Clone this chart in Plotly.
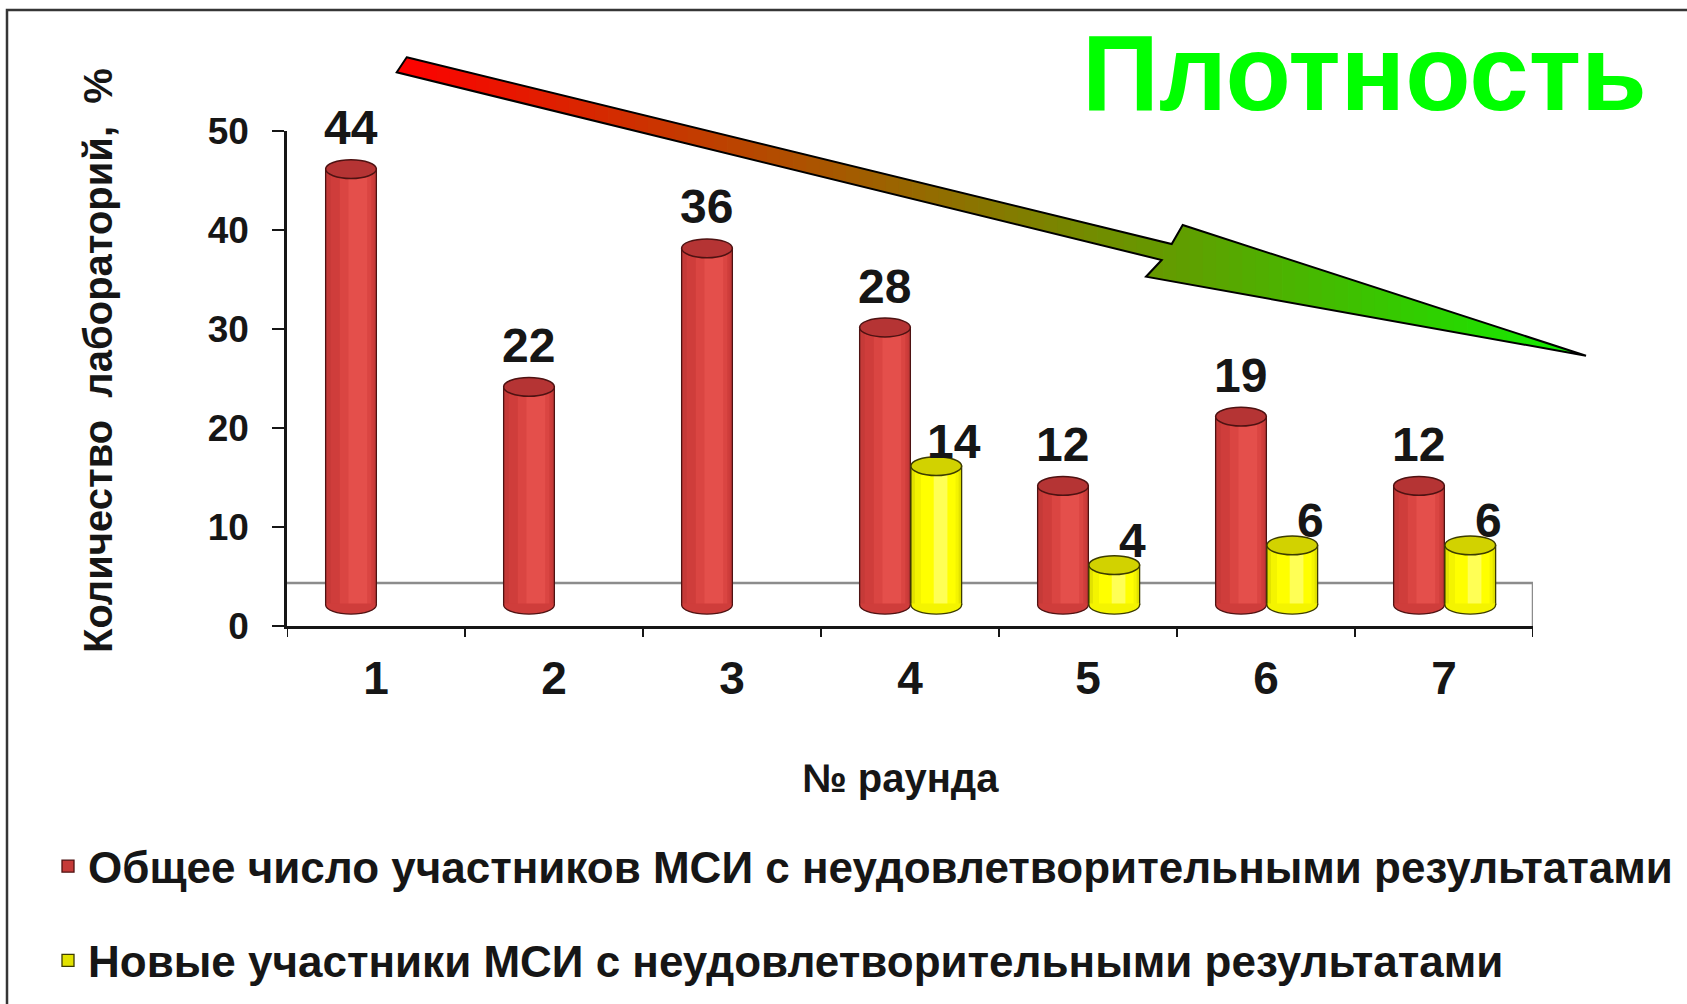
import plotly.graph_objects as go

# ---- data -------------------------------------------------------------
rounds = ["1", "2", "3", "4", "5", "6", "7"]
total_bad = [44, 22, 36, 28, 12, 19, 12]
new_bad = [None, None, None, 14, 4, 6, 6]
y_ticks = [0, 10, 20, 30, 40, 50]

name_total = "Общее число участников МСИ с неудовлетворительными результатами"
name_new = "Новые участники МСИ с неудовлетворительными результатами"
chart_title = "Плотность"
x_title = "№ раунда"
y_title = "Количество\u00a0 лабораторий,\u00a0 %"

# ---- page geometry ----------------------------------------------------
W, H = 1687, 1004
ML, MR, MT, MB = 287, 154, 131, 378
PW, PH = W - ML - MR, H - MT - MB
FONT = "Liberation Sans, Arial, sans-serif"
INK = "#161616"

DEPTH = 2.15      # 3-D depth shift of the cylinders, in value units
BAR_W = 0.285     # cylinder width, in slot units
CAP = 0.95        # half-height of the elliptical cylinder ends, in value units
FLOOR = 4.35      # back edge of the floor

pos = list(range(1, len(rounds) + 1))          # numeric slot of each round
bounds = [p - 0.5 for p in pos] + [pos[-1] + 0.5]


def px(x):
    return (x - ML) / PW


def py(y):
    return (H - MB - y) / PH


series = [
    dict(name=name_total, values=total_bad, offset=-0.283,
         layers=[(0.00, 1.00, "#c53a38"), (0.10, 0.95, "#cf3d3b"),
                 (0.28, 0.90, "#da4542"), (0.45, 0.82, "#e44f4b")],
         edge="#4e1212", top="#b53434", label_shift=(0, 13)),
    dict(name=name_new, values=new_bad, offset=0.005,
         layers=[(0.00, 1.00, "#e2e200"), (0.08, 0.94, "#f4f400"),
                 (0.20, 0.88, "#ffff00"), (0.45, 0.72, "#ffff55")],
         edge="#3c3c00", top="#d2d200", label_shift=(18, -4)),
]

fig = go.Figure()
shapes = []
annotations = []

# floor outline behind the cylinders
shapes.append(dict(type="line", xref="x", yref="y", x0=bounds[0], x1=bounds[-1],
                   y0=FLOOR, y1=FLOOR, line=dict(color="#8c8c8c", width=2.5),
                   layer="below"))
shapes.append(dict(type="line", xref="x", yref="y", x0=bounds[-1], x1=bounds[-1],
                   y0=0, y1=FLOOR, line=dict(color="#8c8c8c", width=2.5),
                   layer="below"))

# tick marks on the boundaries between rounds
for bx in bounds:
    shapes.append(dict(type="line", xref="x", yref="paper", x0=bx, x1=bx,
                       y0=0, y1=-11 / PH, line=dict(color=INK, width=2),
                       layer="above"))

for s in series:
    vals = s["values"]
    for k, (f0, f1, col) in enumerate(s["layers"]):
        first = k == 0
        fig.add_trace(go.Bar(
            x=pos, y=vals, yaxis="y2",
            width=[BAR_W * (f1 - f0)] * len(pos),
            offset=[s["offset"] + BAR_W * f0] * len(pos),
            marker=dict(color=col,
                        line=dict(color=s["edge"], width=1.3 if first else 0)),
            name=s["name"], showlegend=first, legendgroup=s["name"],
            hoverinfo=None if first else "skip",
        ))
    for p, v in zip(pos, vals):
        if v is None:
            continue
        x0 = p + s["offset"]
        x1 = x0 + BAR_W
        xc = (x0 + x1) / 2
        a = BAR_W / 2
        kap = 0.5523
        d = 0.12
        # rounded bottom of the cylinder
        path = (f"M {x0},{d} L {x0},0 "
                f"C {x0},{-kap * CAP} {xc - kap * a},{-CAP} {xc},{-CAP} "
                f"C {xc + kap * a},{-CAP} {x1},{-kap * CAP} {x1},0 L {x1},{d}")
        shapes.append(dict(type="path", xref="x", yref="y2", path=path,
                           fillcolor=s["layers"][1][2],
                           line=dict(color=s["edge"], width=1.3), layer="above"))
        # elliptical top of the cylinder
        shapes.append(dict(type="circle", xref="x", yref="y2",
                           x0=x0, x1=x1, y0=v - CAP, y1=v + CAP,
                           fillcolor=s["top"], line=dict(color=s["edge"], width=1.5),
                           layer="above"))
        dx, dy = s["label_shift"]
        annotations.append(dict(x=xc, y=v, xref="x", yref="y2", text=str(v),
                                showarrow=False, yanchor="bottom", xanchor="center",
                                xshift=dx, yshift=dy,
                                font=dict(family=FONT, size=48, color=INK,
                                          weight="bold")))

# gradient arrow (red -> green) drawn as vertical slices of one polygon
arrow = [(406.7, 57.3), (1171.7, 244.0), (1182.7, 225.0), (1586.0, 355.7),
         (1146.0, 276.7), (1161.7, 260.0), (396.7, 72.3)]


def clip(poly, xv, keep_right):
    out = []
    n = len(poly)
    for j in range(n):
        p, q = poly[j], poly[(j + 1) % n]
        pin = p[0] >= xv if keep_right else p[0] <= xv
        qin = q[0] >= xv if keep_right else q[0] <= xv
        if pin:
            out.append(p)
        if pin != qin:
            t = (xv - p[0]) / (q[0] - p[0])
            out.append((xv, p[1] + t * (q[1] - p[1])))
    return out


ax0 = min(p[0] for p in arrow)
ax1 = max(p[0] for p in arrow)
N = 90
for j in range(N):
    a = ax0 + (ax1 - ax0) * j / N
    b = ax0 + (ax1 - ax0) * (j + 1) / N + 0.8
    piece = clip(clip(arrow, a, True), b, False)
    if len(piece) < 3:
        continue
    t = (j + 0.5) / N
    col = f"rgb({int(255 * (1 - t) + 16 * t)},{int(240 * t)},0)"
    d = "M " + " L ".join(f"{px(x):.5f},{py(y):.5f}" for x, y in piece) + " Z"
    shapes.append(dict(type="path", xref="paper", yref="paper", path=d,
                       fillcolor=col, line=dict(width=0), layer="above"))
outline = "M " + " L ".join(f"{px(x):.5f},{py(y):.5f}" for x, y in arrow) + " Z"
shapes.append(dict(type="path", xref="paper", yref="paper", path=outline,
                   fillcolor="rgba(0,0,0,0)", line=dict(color="#000000", width=2),
                   layer="above"))

# outer frame
shapes.append(dict(type="rect", xref="paper", yref="paper",
                   x0=px(7), x1=px(1720), y0=py(10), y1=py(1040),
                   line=dict(color="#363636", width=2.5), fillcolor="rgba(0,0,0,0)",
                   layer="above"))

# titles
annotations.append(dict(text=chart_title, xref="paper", yref="paper",
                        x=px(1080), y=py(11), xanchor="left", yanchor="top",
                        showarrow=False,
                        font=dict(family=FONT, size=107, color="#00ff00", weight="bold")))
annotations.append(dict(text=x_title, xref="paper", yref="paper",
                        x=px(900), y=py(778), xanchor="center", yanchor="middle",
                        showarrow=False,
                        font=dict(family=FONT, size=40, color=INK, weight="bold")))
annotations.append(dict(text=y_title, xref="paper", yref="paper",
                        x=px(98), y=py(361), xanchor="center", yanchor="middle",
                        textangle=-90, showarrow=False,
                        font=dict(family=FONT, size=40, color=INK, weight="bold")))

fig.update_layout(
    width=W, height=H,
    margin=dict(l=ML, r=MR, t=MT, b=MB, pad=0, autoexpand=False),
    paper_bgcolor="white", plot_bgcolor="white",
    barmode="overlay",
    showlegend=True,
    legend=dict(x=px(48), y=py(831), xanchor="left", yanchor="top",
                orientation="v", traceorder="grouped", tracegroupgap=34,
                font=dict(family=FONT, size=44, color=INK, weight="bold"),
                bgcolor="rgba(0,0,0,0)", itemclick=False),
    xaxis=dict(range=[bounds[0], bounds[-1]], tickvals=pos, ticktext=rounds,
               showline=True, linecolor=INK, linewidth=2.5, ticks="",
               showgrid=False, zeroline=False, ticklabelstandoff=10,
               tickfont=dict(family=FONT, size=46, color=INK, weight="bold")),
    yaxis=dict(range=[0, 50], tickvals=y_ticks, showline=True, linecolor=INK,
               linewidth=2.5, ticks="outside", ticklen=12, tickwidth=2,
               tickcolor=INK, showgrid=False, zeroline=False, ticklabelstandoff=16,
               tickfont=dict(family=FONT, size=37, color=INK, weight="bold")),
    yaxis2=dict(overlaying="y", range=[-DEPTH, 50 - DEPTH], visible=False,
                showgrid=False, zeroline=False),
    shapes=shapes,
    annotations=annotations,
)

fig.write_html("out.html")
